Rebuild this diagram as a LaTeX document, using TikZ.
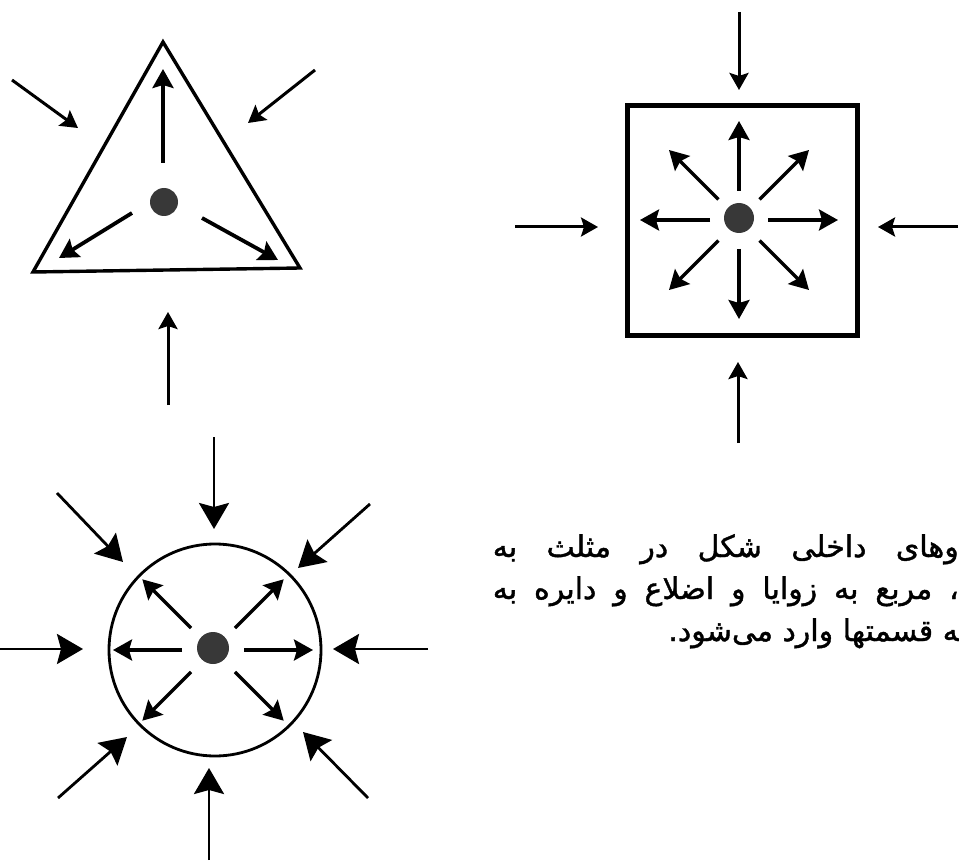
\documentclass[tikz,border=0pt]{standalone}
\usepackage{fontspec}
\newfontfamily\farsifont[Script=Arabic,FakeBold=1.3]{DejaVu Sans}
\TeXXeTstate=1
\usetikzlibrary{calc,arrows.meta}

\begin{document}
\begin{tikzpicture}[x=1pt, y=-1pt, line join=miter,
  push/.style={line width=3pt, -{Stealth[length=17pt,width=19pt,inset=3pt]}},
  pushbig/.style={line width=2.8pt, -{Stealth[length=26pt,width=30pt,inset=4pt]}},
  spread/.style={line width=3.2pt, -{Stealth[length=19pt,width=21pt,inset=3pt]}},
  spot/.style={fill=black!78}]
  \useasboundingbox (0,0) rectangle (959,861);

  \coordinate (T) at (164,202);
  \coordinate (S) at (739,220);
  \coordinate (C) at (213,650);

  % مثلث
  \coordinate (Ta) at (163,42);
  \coordinate (Tb) at (33,272);
  \coordinate (Tc) at (300,268);
  \draw[line width=3.4pt] (Ta)--(Tb)--(Tc)--cycle;
  \fill[spot] (T) circle[radius=14pt];
  \draw[spread, line width=3.8pt] ($(T)+(-1,-39)$)--($(T)+(-1,-133)$);
  \draw[spread, line width=3.8pt] ($(T)+(-32,11)$)--($(T)+(-105,56)$);
  \draw[spread, line width=3.8pt] ($(T)+(38,16)$)--($(T)+(114,58)$);
  \draw[push] (12,80)--(78,128);
  \draw[push] (315,70)--(248,123);
  \draw[push] (168,405)--(168,312);

  % مربع
  \draw[line width=5pt] (627,106) rectangle (857,335);
  \fill[spot] ($(S)+(0,-2)$) circle[radius=15pt];
  \foreach \a in {0,45,...,315}
    \draw[spread] ($(S)+(\a:29)$)--($(S)+(\a:99)$);
  \draw[push] (739,12)--(739,90);
  \draw[push] (515,227)--(598,227);
  \draw[push] (958,227)--(878,227);
  \draw[push] (738,443)--(738,362);

  % دایره
  \draw[line width=2.8pt] ($(C)+(2,0)$) circle[radius=106pt];
  \fill[spot] ($(C)+(0,-2)$) circle[radius=16pt];
  \foreach \a in {0,45,135,180,225,315}
    \draw[spread] ($(C)+(\a:31)$)--($(C)+(\a:100)$);
  \draw[pushbig] (214,437)--(214,529);
  \draw[pushbig] (209,860)--(209,768);
  \draw[pushbig] (0,649)--(83,649);
  \draw[pushbig] (428,649)--(333,649);
  \draw[pushbig] (57,493)--(123,562);
  \draw[pushbig] (370,504)--(298,568);
  \draw[pushbig] (58,798)--(127,737);
  \draw[pushbig] (368,798)--(303,732);

  % متن
  \node[anchor=base east, inner sep=0pt] (l1) at (959,557)
    {\fontsize{30}{34}\farsifont\hbox to 466pt{\beginR وهای داخلی شکل در مثلث به\endR}};
  \node[anchor=base east, inner sep=0pt] (l2) at (959,599)
    {\fontsize{30}{34}\farsifont\hbox to 466pt{\beginR ، مربع به زوایا و اضلاع و دایره به\endR}};
  \node[anchor=base east, inner sep=0pt] (l3) at (959,641)
    {\fontsize{30}{34}\farsifont\beginR ^^^^200dه قسمتها وارد می^^^^200cشود.\endR};
\end{tikzpicture}
\end{document}
